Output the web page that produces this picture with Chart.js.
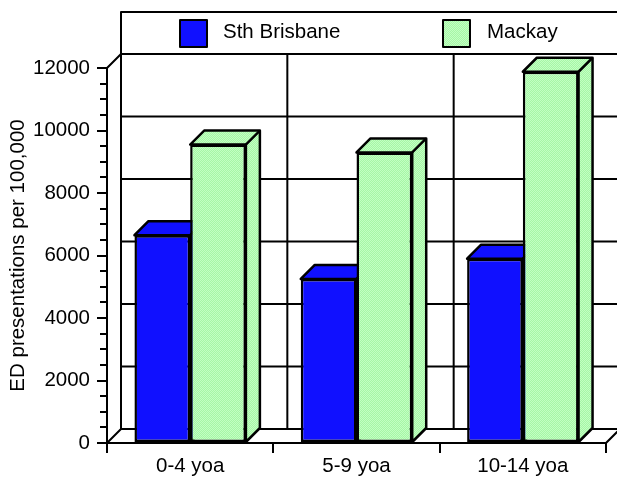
<!DOCTYPE html>
<html>
<head>
<meta charset="UTF-8">
<title>ED presentations per 100,000</title>
<script src="https://cdn.jsdelivr.net/npm/chart.js"></script>
<style>
  body { margin: 0; background: #fff; }
  #wrap { width: 617px; height: 477px; }
</style>
</head>
<body>
<div id="wrap"><canvas id="chart"></canvas></div>
<script>
const categories = ['0-4 yoa', '5-9 yoa', '10-14 yoa'];
const seriesNames = ['Sth Brisbane', 'Mackay'];
const sthBrisbane = [6650, 5250, 5900];
const mackay = [9550, 9300, 11880];
const yMax = 12000;
const yStep = 2000;
const yMinorStep = 500;

const BLUE = '#1010ff';
const DEPTH = 14;
const FONT = "'Liberation Sans', Arial, sans-serif";

// light green with the fine dither seen in the original
function greenPattern() {
  const c = document.createElement('canvas');
  c.width = 2; c.height = 2;
  const g = c.getContext('2d');
  g.fillStyle = '#c2ffc2'; g.fillRect(0, 0, 2, 2);
  g.fillStyle = '#a6f6a6'; g.fillRect(1, 0, 1, 1); g.fillRect(0, 1, 1, 1);
  return g.createPattern(c, 'repeat');
}
const GREEN = greenPattern();

// fake 3D: back wall, floor, bar tops/sides and the boxed legend
const fake3d = {
  id: 'fake3d',
  beforeDatasetsDraw(chart) {
    const { ctx, chartArea: a, scales: { y } } = chart;
    const d = DEPTH;
    const y0 = y.getPixelForValue(0);
    const yTop = y.getPixelForValue(yMax);
    const catW = (a.right - a.left) / categories.length;

    ctx.save();
    ctx.strokeStyle = '#000';
    ctx.lineWidth = 2;

    // back wall grid
    ctx.beginPath();
    for (let v = 0; v <= yMax; v += yStep) {
      const py = y.getPixelForValue(v) - d;
      ctx.moveTo(a.left + d, py);
      ctx.lineTo(a.right + d, py);
    }
    for (let i = 0; i <= categories.length; i++) {
      const px = a.left + i * catW + d;
      ctx.moveTo(px, yTop - d);
      ctx.lineTo(px, y0 - d);
    }
    ctx.moveTo(a.left, yTop); ctx.lineTo(a.left + d, yTop - d);
    ctx.moveTo(a.left, y0); ctx.lineTo(a.left + d, y0 - d);
    ctx.moveTo(a.right, y0); ctx.lineTo(a.right + d, y0 - d);
    ctx.stroke();

    // minor ticks
    ctx.beginPath();
    for (let v = yMinorStep; v < yMax; v += yMinorStep) {
      if (v % yStep === 0) continue;
      const py = Math.round(y.getPixelForValue(v));
      ctx.moveTo(a.left - 7, py);
      ctx.lineTo(a.left, py);
    }
    ctx.stroke();

    // bar tops and right sides
    ctx.lineWidth = 2.5;
    ctx.lineJoin = 'round';
    chart.data.datasets.forEach((ds, di) => {
      chart.getDatasetMeta(di).data.forEach(bar => {
        const { x: cx, y: top, base, width } = bar.getProps(['x', 'y', 'base', 'width'], true);
        const l = cx - width / 2, r = cx + width / 2;
        ctx.fillStyle = ds.backgroundColor;
        ctx.beginPath();
        ctx.moveTo(l, top);
        ctx.lineTo(l + d, top - d);
        ctx.lineTo(r + d, top - d);
        ctx.lineTo(r + d, base - d);
        ctx.lineTo(r, base);
        ctx.lineTo(r, top);
        ctx.closePath();
        ctx.fill();
        ctx.stroke();
        ctx.beginPath();
        ctx.moveTo(r, top);
        ctx.lineTo(r + d, top - d);
        ctx.stroke();
      });
    });

    // legend box
    ctx.lineWidth = 2;
    ctx.strokeRect(a.left + d, 12, a.right - a.left + 10, yTop - d - 12);
    const items = [{ x: 180, text: 223 }, { x: 443, text: 487 }];
    ctx.font = '20.5px ' + FONT;
    ctx.textBaseline = 'middle';
    chart.data.datasets.forEach((ds, di) => {
      const it = items[di];
      ctx.fillStyle = ds.backgroundColor;
      ctx.fillRect(it.x, 20, 27, 27);
      ctx.lineWidth = 2;
      ctx.strokeRect(it.x, 20, 27, 27);
      ctx.fillStyle = '#000';
      ctx.fillText(ds.label, it.text, 32);
    });
    ctx.restore();
  }
};

Chart.defaults.color = '#000';
Chart.defaults.font.family = FONT;
Chart.defaults.font.size = 20.5;

new Chart(document.getElementById('chart'), {
  type: 'bar',
  data: {
    labels: categories,
    datasets: [
      { label: seriesNames[0], data: sthBrisbane, backgroundColor: BLUE },
      { label: seriesNames[1], data: mackay, backgroundColor: GREEN }
    ]
  },
  options: {
    responsive: true,
    maintainAspectRatio: false,
    animation: false,
    layout: { padding: { top: 68, right: 11, left: 0, bottom: 0 } },
    datasets: {
      bar: {
        borderColor: '#000',
        borderWidth: 2.5,
        borderSkipped: false,
        categoryPercentage: 0.67,
        barPercentage: 1
      }
    },
    plugins: {
      legend: { display: false },
      tooltip: { enabled: false }
    },
    scales: {
      x: {
        grid: { drawOnChartArea: false, tickLength: 10, color: '#000', lineWidth: 2 },
        border: { color: '#000', width: 2 },
        ticks: { padding: 1 },
        afterFit: s => { s.height = 34; }
      },
      y: {
        min: 0,
        max: yMax,
        ticks: { stepSize: yStep, padding: 7, callback: v => String(v) },
        grid: { drawOnChartArea: false, tickLength: 10, color: '#000', lineWidth: 2 },
        border: { color: '#000', width: 2 },
        title: { display: true, text: 'ED presentations per 100,000', padding: { top: 6, bottom: 0 } },
        afterFit: s => { s.width = 107; }
      }
    }
  },
  plugins: [fake3d]
});
</script>
</body>
</html>
